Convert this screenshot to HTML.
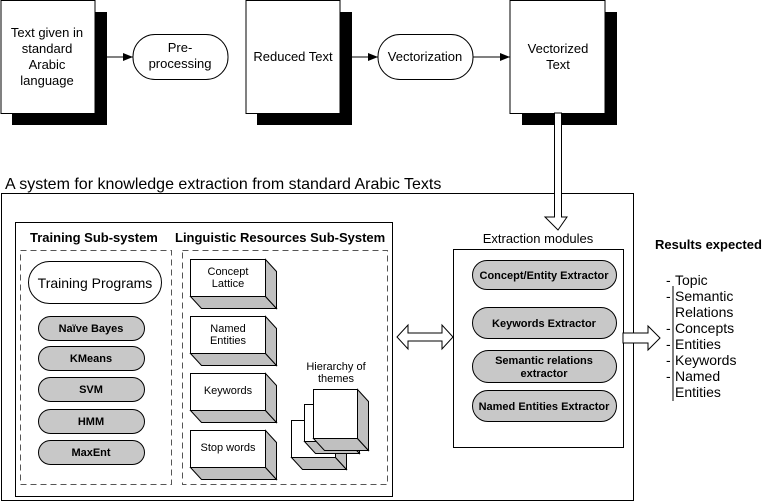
<!DOCTYPE html>
<html><head><meta charset="utf-8"><style>
html,body{margin:0;padding:0;background:#fff}
svg{display:block}
text{font-family:"Liberation Sans",Arial,sans-serif;fill:#000}
</style></head><body>
<svg width="766" height="503" viewBox="0 0 766 503" xmlns="http://www.w3.org/2000/svg">
<defs>
<marker id="ah" markerWidth="10" markerHeight="8" refX="10" refY="4" orient="auto" markerUnits="userSpaceOnUse">
<path d="M0,0 L10,4 L0,8 Z" fill="#000"/></marker>
</defs>
<!-- top docs -->
<rect x="12" y="12" width="95" height="113" fill="#000"/>
<rect x="1" y="0.5" width="94" height="113" fill="#fff" stroke="#000"/>
<text font-size="13" text-anchor="middle"><tspan x="47" y="37">Text given in</tspan><tspan x="47" y="53">standard</tspan><tspan x="47" y="69">Arabic</tspan><tspan x="47" y="85">language</tspan></text>
<rect x="257" y="12" width="95" height="113" fill="#000"/>
<rect x="246" y="0.5" width="94" height="113" fill="#fff" stroke="#000"/>
<text x="293" y="61" font-size="13" text-anchor="middle">Reduced Text</text>
<rect x="522" y="12" width="95" height="113" fill="#000"/>
<rect x="510" y="0.5" width="95" height="113" fill="#fff" stroke="#000"/>
<text font-size="13" text-anchor="middle"><tspan x="558" y="53">Vectorized</tspan><tspan x="558" y="69">Text</tspan></text>
<rect x="133" y="34.5" width="95" height="45" rx="22" fill="#fff" stroke="#000"/>
<text font-size="13" text-anchor="middle"><tspan x="180" y="52">Pre-</tspan><tspan x="180" y="68">processing</tspan></text>
<rect x="378" y="34.5" width="95" height="45" rx="22" fill="#fff" stroke="#000"/>
<text x="425" y="61" font-size="13" text-anchor="middle">Vectorization</text>
<g stroke="#000" stroke-width="1">
<line x1="107" y1="57" x2="133" y2="57" marker-end="url(#ah)"/>
<line x1="352" y1="57" x2="378" y2="57" marker-end="url(#ah)"/>
<line x1="473" y1="57" x2="510" y2="57" marker-end="url(#ah)"/>
</g>
<text x="5" y="189" font-size="16">A system for knowledge extraction from standard Arabic Texts</text>
<!-- outer box -->
<rect x="1.5" y="193.5" width="632" height="307" fill="#fff" stroke="#000"/>
<!-- down arrow -->
<path d="M554.5,113 L561.5,113 L561.5,217 L567,217 L558,230 L545,217 L554.5,217 Z" fill="#fff" stroke="#000"/>
<!-- inner -->
<rect x="15.5" y="222.5" width="377" height="274" fill="#fff" stroke="#000"/>
<text x="30" y="242" font-size="13" font-weight="bold">Training Sub-system</text>
<text x="175" y="242" font-size="13" font-weight="bold">Linguistic Resources Sub-System</text>
<g fill="none" stroke="#555" stroke-dasharray="6,4">
<rect x="20.5" y="250.5" width="151" height="234"/>
<rect x="182.5" y="250.5" width="205" height="234"/>
</g>
<rect x="28.5" y="261.5" width="133" height="42" rx="21" fill="#fff" stroke="#000"/>
<text x="95" y="288" font-size="14" text-anchor="middle">Training Programs</text>
<g fill="#c8c8c8" stroke="#000">
<rect x="38.5" y="316.5" width="106" height="24" rx="12"/>
<rect x="38.5" y="346.5" width="106" height="24" rx="12"/>
<rect x="38.5" y="377.5" width="106" height="24" rx="12"/>
<rect x="38.5" y="409.5" width="106" height="24" rx="12"/>
<rect x="38.5" y="440.5" width="106" height="24" rx="12"/>
</g>
<g font-size="11" font-weight="bold" text-anchor="middle">
<text x="91" y="332">Naïve Bayes</text>
<text x="91" y="362">KMeans</text>
<text x="91" y="393">SVM</text>
<text x="91" y="425">HMM</text>
<text x="91" y="456">MaxEnt</text>
</g>
<!-- 3d boxes -->
<g stroke="#000" stroke-width="1">
<g>
<path d="M190.5,296.5 L201.5,308.5 L276.5,308.5 L265.5,296.5 Z" fill="#c0c0c0"/>
<path d="M265.5,259.5 L276.5,271.5 L276.5,308.5 L265.5,296.5 Z" fill="#c0c0c0"/>
<rect x="190.5" y="259.5" width="75" height="37" fill="#fff"/>
</g>
<g>
<path d="M190.5,353.5 L201.5,365.5 L276.5,365.5 L265.5,353.5 Z" fill="#c0c0c0"/>
<path d="M265.5,316.5 L276.5,328.5 L276.5,365.5 L265.5,353.5 Z" fill="#c0c0c0"/>
<rect x="190.5" y="316.5" width="75" height="37" fill="#fff"/>
</g>
<g>
<path d="M190.5,410.5 L201.5,422.5 L276.5,422.5 L265.5,410.5 Z" fill="#c0c0c0"/>
<path d="M265.5,373.5 L276.5,385.5 L276.5,422.5 L265.5,410.5 Z" fill="#c0c0c0"/>
<rect x="190.5" y="373.5" width="75" height="37" fill="#fff"/>
</g>
<g>
<path d="M190.5,467.5 L201.5,479.5 L276.5,479.5 L265.5,467.5 Z" fill="#c0c0c0"/>
<path d="M265.5,430.5 L276.5,442.5 L276.5,479.5 L265.5,467.5 Z" fill="#c0c0c0"/>
<rect x="190.5" y="430.5" width="75" height="37" fill="#fff"/>
</g>
<!-- cubes -->
<g>
<path d="M291.5,457.5 L302.5,469.5 L346.5,469.5 L335.5,457.5 Z" fill="#c0c0c0"/>
<path d="M335.5,420.5 L346.5,432.5 L346.5,469.5 L335.5,457.5 Z" fill="#c0c0c0"/>
<rect x="291.5" y="420.5" width="44" height="37" fill="#fff"/>
</g>
<g>
<path d="M304.5,441.5 L315.5,453.5 L359.5,453.5 L348.5,441.5 Z" fill="#c0c0c0"/>
<path d="M348.5,404.5 L359.5,416.5 L359.5,453.5 L348.5,441.5 Z" fill="#c0c0c0"/>
<rect x="304.5" y="404.5" width="44" height="37" fill="#fff"/>
</g>
<g>
<path d="M313.5,438.5 L324.5,450.5 L368.5,450.5 L357.5,438.5 Z" fill="#c0c0c0"/>
<path d="M357.5,389.5 L368.5,401.5 L368.5,450.5 L357.5,438.5 Z" fill="#c0c0c0"/>
<rect x="313.5" y="389.5" width="44" height="49" fill="#fff"/>
</g>
</g>
<g font-size="11" text-anchor="middle">
<text x="228" y="275">Concept</text><text x="228" y="287">Lattice</text>
<text x="228" y="332">Named</text><text x="228" y="344">Entities</text>
<text x="228" y="394">Keywords</text>
<text x="228" y="451">Stop words</text>
<text x="336" y="370">Hierarchy of</text><text x="336" y="382">themes</text>
</g>
<!-- double arrow -->
<path d="M397,337 L408,325 L408,333 L442,333 L442,325 L453,337 L442,349 L442,341 L408,341 L408,349 Z" fill="#fff" stroke="#000"/>
<!-- extraction -->
<text x="538" y="243" font-size="13" text-anchor="middle">Extraction modules</text>
<rect x="453.5" y="249.5" width="170" height="198" fill="#fff" stroke="#000"/>
<g fill="#c8c8c8" stroke="#000">
<rect x="472.5" y="260.5" width="144" height="29" rx="14.5"/>
<rect x="472.5" y="307.5" width="144" height="31" rx="15.5"/>
<rect x="472.5" y="350.5" width="144" height="32" rx="16"/>
<rect x="472.5" y="390.5" width="144" height="31" rx="15.5"/>
</g>
<g font-size="11" font-weight="bold" text-anchor="middle">
<text x="544" y="279">Concept/Entity Extractor</text>
<text x="544" y="327">Keywords Extractor</text>
<text x="544" y="364">Semantic relations</text><text x="544" y="377">extractor</text>
<text x="544" y="410">Named Entities Extractor</text>
</g>
<!-- right arrow -->
<path d="M623,333 L648,333 L648,326 L660,338 L648,350 L648,343 L623,343 Z" fill="#fff" stroke="#000"/>
<text x="655" y="249" font-size="13" font-weight="bold">Results expected</text>
<line x1="673" y1="286" x2="673" y2="401" stroke="#000"/>
<g font-size="14">
<text x="666" y="285">-</text><text x="675" y="285">Topic</text>
<text x="666" y="301">-</text><text x="675" y="301">Semantic</text>
<text x="675" y="317">Relations</text>
<text x="666" y="333">-</text><text x="675" y="333">Concepts</text>
<text x="666" y="349">-</text><text x="675" y="349">Entities</text>
<text x="666" y="365">-</text><text x="675" y="365">Keywords</text>
<text x="666" y="381">-</text><text x="675" y="381">Named</text>
<text x="675" y="397">Entities</text>
</g>
</svg>
</body></html>
